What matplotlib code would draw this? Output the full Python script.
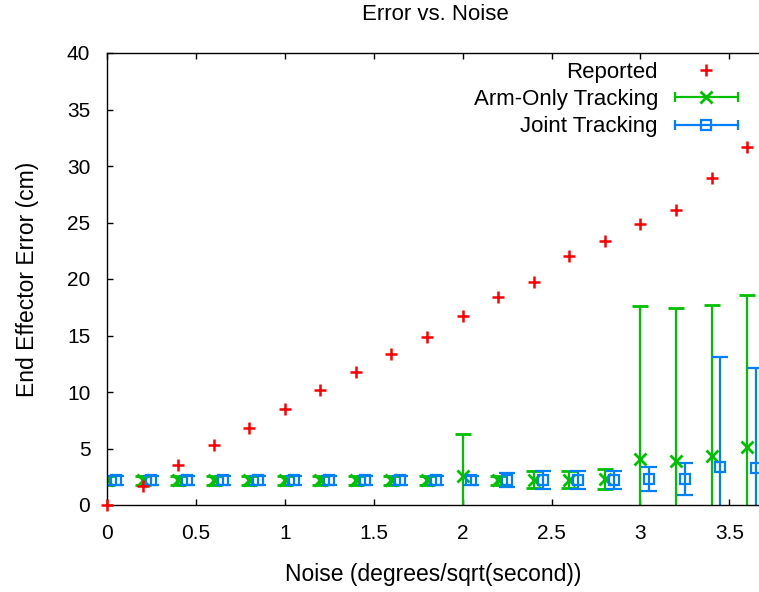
import numpy as np
import matplotlib
matplotlib.use('Agg')
import matplotlib.pyplot as plt
from matplotlib.lines import Line2D
from matplotlib.legend_handler import HandlerLine2D, HandlerTuple

plt.rcParams['font.family'] = ['Liberation Sans', 'DejaVu Sans']

noise = [0.0, 0.2, 0.4, 0.6, 0.8, 1.0, 1.2, 1.4, 1.6, 1.8,
         2.0, 2.2, 2.4, 2.6, 2.8, 3.0, 3.2, 3.4, 3.6]
reported = [0.0, 1.7, 3.5, 5.3, 6.8, 8.5, 10.2, 11.8, 13.4, 14.9,
            16.7, 18.4, 19.7, 22.0, 23.4, 24.9, 26.1, 28.9, 31.7]
arm_mean = [2.2, 2.2, 2.2, 2.2, 2.2, 2.2, 2.2, 2.2, 2.2, 2.2,
            2.6, 2.2, 2.25, 2.25, 2.3, 4.1, 3.9, 4.3, 5.1]
arm_err = [0.4, 0.4, 0.4, 0.4, 0.4, 0.4, 0.4, 0.4, 0.4, 0.4,
           3.7, 0.4, 0.75, 0.75, 0.9, 13.5, 13.5, 13.4, 13.5]
joint_noise = [0.05, 0.25, 0.45, 0.65, 0.85, 1.05, 1.25, 1.45, 1.65, 1.85,
               2.05, 2.25, 2.45, 2.65, 2.85, 3.05, 3.25, 3.45, 3.65]
joint_mean = [2.2, 2.2, 2.2, 2.2, 2.2, 2.2, 2.2, 2.2, 2.2, 2.2,
              2.2, 2.2, 2.2, 2.2, 2.2, 2.3, 2.3, 3.4, 3.3]
joint_err = [0.4, 0.4, 0.4, 0.4, 0.4, 0.4, 0.4, 0.4, 0.4, 0.4,
             0.4, 0.6, 0.8, 0.8, 0.8, 1.1, 1.4, 9.7, 8.8]

red = '#ff0000'
green = '#00c000'
blue = '#0080ff'

fig = plt.figure(figsize=(7.59, 5.92), dpi=100)
ax = fig.add_axes([107 / 759, 1 - 505 / 592, 1 - 107 / 759, (505 - 53) / 592])

ax.plot(noise, reported, linestyle='none', marker='+', color=red,
        markersize=9, markeredgewidth=1.8, clip_on=False, zorder=3)
ax.errorbar(noise, arm_mean, yerr=arm_err, fmt='x', color=green,
            markersize=8, markeredgewidth=2, elinewidth=1.6, capsize=5.5,
            capthick=1.6, zorder=2)
ax.errorbar(joint_noise, joint_mean, yerr=joint_err, fmt='s', color=blue,
            markerfacecolor='none', markersize=6.5, markeredgewidth=1.6,
            elinewidth=1.6, capsize=5.5, capthick=1.6, zorder=2)

ax.set_xlim(0, 652 / 177.8)
ax.set_ylim(0, 40)
ax.set_xticks([0, 0.5, 1, 1.5, 2, 2.5, 3, 3.5])
ax.set_xticklabels(['0', '0.5', '1', '1.5', '2', '2.5', '3', '3.5'])
ax.set_yticks(range(0, 41, 5))
ax.tick_params(direction='in', top=True, right=False, length=4,
               labelsize=15, width=1)
ax.tick_params(axis='y', pad=12)
ax.tick_params(axis='x', pad=14)
ax.spines['right'].set_visible(False)
for s in ax.spines.values():
    s.set_linewidth(1.0)

ax.set_title('Error vs. Noise', fontsize=16, pad=0,
             x=(435 - 107) / 652, y=(505 - 14) / 452, va='center')
ax.set_xlabel('Noise (degrees/sqrt(second))', fontsize=16.5, labelpad=14)
ax.set_ylabel('End Effector Error (cm)', fontsize=16.5, labelpad=20)

# legend handles in the gnuplot style: horizontal bar with caps
rep_h = Line2D([], [], linestyle='none', marker='+', color=red,
               markersize=9, markeredgewidth=1.8)
cap_g = Line2D([], [], color=green, linewidth=1.6, marker='|',
               markersize=7, markeredgewidth=1.6)
mk_g = Line2D([], [], linestyle='none', marker='x', color=green,
              markersize=8, markeredgewidth=2)
cap_b = Line2D([], [], color=blue, linewidth=1.6, marker='|',
               markersize=7, markeredgewidth=1.6)
mk_b = Line2D([], [], linestyle='none', marker='s', color=blue,
              markerfacecolor='none', markersize=6.5, markeredgewidth=1.6)

leg = ax.legend([rep_h, (cap_g, mk_g), (cap_b, mk_b)],
                ['Reported', 'Arm-Only Tracking', 'Joint Tracking'],
                handler_map={cap_g: HandlerLine2D(numpoints=2, marker_pad=0),
                             cap_b: HandlerLine2D(numpoints=2, marker_pad=0),
                             tuple: HandlerTuple(ndivide=1)},
                loc='upper right', bbox_to_anchor=(738 / 759, 1 - 62 / 592),
                bbox_transform=fig.transFigure,
                markerfirst=False, frameon=False, fontsize=16,
                handlelength=2.85, handletextpad=0.75, labelspacing=0.28,
                borderaxespad=0, borderpad=0)
for t in leg.get_texts():
    t.set_ha('right')
leg._legend_box.align = 'right'

fig.savefig('out.png', dpi=100)
